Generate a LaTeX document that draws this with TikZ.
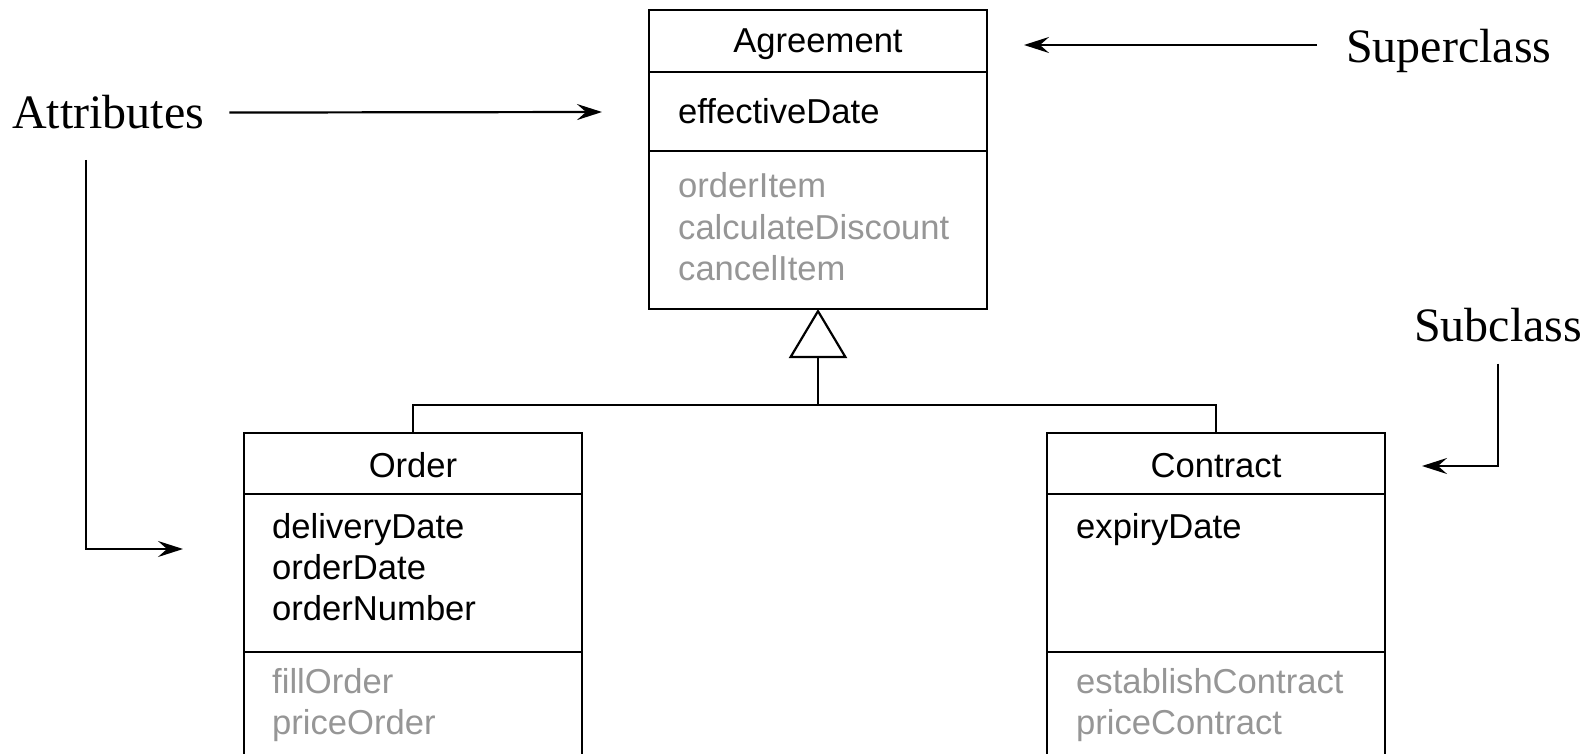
\documentclass[tikz,border=0pt]{standalone}
\usepackage{fontspec}
\setmainfont{Liberation Sans}
\newfontfamily\labelfont{Liberation Serif}
\usetikzlibrary{arrows.meta,positioning}
\definecolor{opgray}{RGB}{150,150,150}

\tikzset{
  classbox/.style={draw, line width=2.6pt, minimum width=338pt, anchor=north west, inner sep=0pt, outer sep=0pt},
  divider/.style={line width=2.6pt},
  classname/.style={anchor=base, inner sep=0pt, font=\fontsize{34.6}{41}\selectfont},
  member/.style={anchor=base west, inner sep=0pt, font=\fontsize{34.6}{41}\selectfont},
  operation/.style={member, text=opgray},
  callout/.style={anchor=base west, inner sep=0pt, font=\labelfont\fontsize{48}{56}\selectfont},
  pointer/.style={line width=2.2pt, -{Stealth[length=25pt, width=16pt, inset=9pt]}},
  tree/.style={line width=2.2pt},
}

\begin{document}
\begin{tikzpicture}[x=1pt, y=-1pt]
  \useasboundingbox (0,0) rectangle (1595,754);
  \clip (0,0) rectangle (1595,754);

  %Superclass
  \node[classbox, minimum height=299pt] (agr) at (649,10) {};
  \draw[divider] ([yshift=-62pt]agr.north west) -- ([yshift=-62pt]agr.north east);
  \draw[divider] ([yshift=-141pt]agr.north west) -- ([yshift=-141pt]agr.north east);
  \node[classname] (agrname) at ([yshift=-43pt]agr.north) {Agreement};
  \node[member] (agrattr) at ([xshift=29pt, yshift=-114pt]agr.north west) {effectiveDate};
  \foreach \op [count=\i from 0] in {orderItem,calculateDiscount,cancelItem}
    \node[operation] (agrop\i) at ([xshift=29pt, yshift={-188pt-41pt*\i}]agr.north west) {\op};

  %Subclass Order
  \node[classbox, minimum height=360pt] (order) at (244,433) {};
  \draw[divider] ([yshift=-61pt]order.north west) -- ([yshift=-61pt]order.north east);
  \draw[divider] ([yshift=-219pt]order.north west) -- ([yshift=-219pt]order.north east);
  \node[classname] (ordername) at ([yshift=-44pt]order.north) {Order};
  \foreach \at [count=\i from 0] in {deliveryDate,orderDate,orderNumber}
    \node[member] (orderattr\i) at ([xshift=28pt, yshift={-105pt-41pt*\i}]order.north west) {\at};
  \foreach \op [count=\i from 0] in {fillOrder,priceOrder}
    \node[operation] (orderop\i) at ([xshift=28pt, yshift={-260pt-41pt*\i}]order.north west) {\op};

  %Subclass Contract
  \node[classbox, minimum height=360pt] (contract) at (1047,433) {};
  \draw[divider] ([yshift=-61pt]contract.north west) -- ([yshift=-61pt]contract.north east);
  \draw[divider] ([yshift=-219pt]contract.north west) -- ([yshift=-219pt]contract.north east);
  \node[classname] (contractname) at ([yshift=-44pt]contract.north) {Contract};
  \node[member] (contractattr) at ([xshift=29pt, yshift=-105pt]contract.north west) {expiryDate};
  \foreach \op [count=\i from 0] in {establishContract,priceContract}
    \node[operation] (contractop\i) at ([xshift=29pt, yshift={-260pt-41pt*\i}]contract.north west) {\op};

  %Generalization
  \coordinate (fork) at ([yshift=-96pt]agr.south);
  \draw[tree, -{Triangle[open, length=49pt, width=58pt, fill=white]}] (fork) -- (agr.south);
  \draw[tree] (order.north) |- (fork) -| (contract.north);

  %Labels
  \node[callout] (attr) at (12,129) {Attributes};
  \node[callout] (super) at (1346,63) {Superclass};
  \node[callout] (sub) at (1414,341) {Subclass};

  \coordinate (attrtip) at (602,112);
  \coordinate (attrdrop) at (86,160);
  \coordinate (attrtip2) at (183,549);
  \coordinate (supertail) at (1317,45);
  \coordinate (supertip) at (1024,45);
  \coordinate (subtip) at (1422,466);

  \draw[pointer, shorten <=25pt] (attr.east) -- (attrtip);
  \draw[pointer] (attrdrop) |- (attrtip2);
  \draw[pointer] (supertail) -- (supertip);
  \draw[pointer, shorten <=22pt] (sub.south) |- (subtip);
\end{tikzpicture}
\end{document}
